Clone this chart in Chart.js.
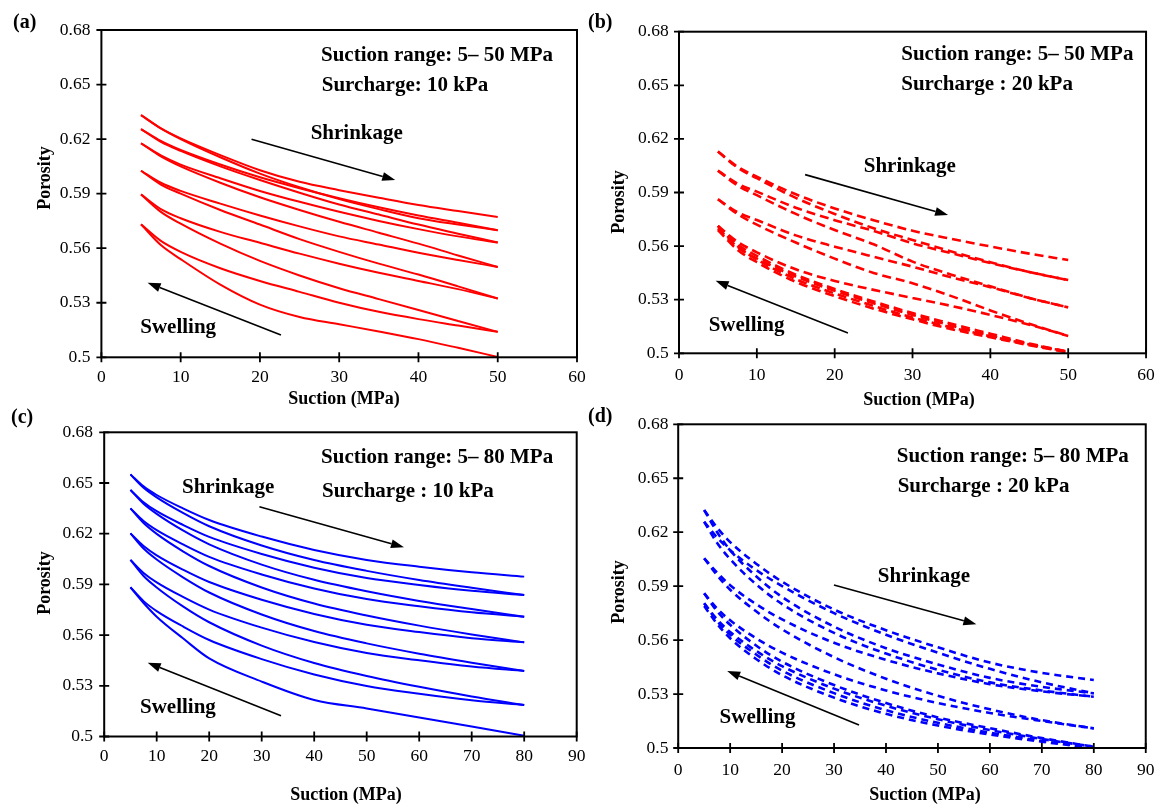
<!DOCTYPE html>
<html>
<head>
<meta charset="utf-8">
<script src="https://cdn.jsdelivr.net/npm/chart.js@4.4.1/dist/chart.umd.min.js"></script>
<style>
  html, body { margin: 0; padding: 0; background: #ffffff; }
  #figure { position: relative; width: 1166px; height: 805px; overflow: hidden; background: #ffffff; }
  #figure canvas { position: absolute; left: 0; top: 0; }
</style>
</head>
<body>
<div id="figure">
  <canvas id="panelA" width="1166" height="805"></canvas>
  <canvas id="panelB" width="1166" height="805"></canvas>
  <canvas id="panelC" width="1166" height="805"></canvas>
  <canvas id="panelD" width="1166" height="805"></canvas>
</div>
<script>
// Suction values (MPa) at which porosity is sampled along each path
const suction50 = [5, 7.5, 10, 15, 20, 25, 30, 35, 40, 45, 50];
const suction80 = [5, 7.5, 10, 15, 20, 30, 40, 50, 60, 70, 80];

// Axis ticks
const porosityTicks = [0.5, 0.53, 0.56, 0.59, 0.62, 0.65, 0.68];
const suctionTicks60 = [0, 10, 20, 30, 40, 50, 60];
const suctionTicks90 = [0, 10, 20, 30, 40, 50, 60, 70, 80, 90];

// (a) suction 5–50 MPa, surcharge 10 kPa — porosity along each wetting / drying path
const swellA = [
  [0.5731, 0.5617, 0.5540, 0.5400, 0.5290, 0.5222, 0.5182, 0.5142, 0.5100, 0.5052, 0.5002],
  [0.5896, 0.5800, 0.5735, 0.5625, 0.5530, 0.5450, 0.5380, 0.5320, 0.5260, 0.5200, 0.5140],
  [0.6026, 0.5950, 0.5900, 0.5810, 0.5730, 0.5650, 0.5580, 0.5515, 0.5455, 0.5390, 0.5323],
  [0.6177, 0.6105, 0.6050, 0.5960, 0.5880, 0.5810, 0.5745, 0.5685, 0.5625, 0.5560, 0.5497],
  [0.6255, 0.6185, 0.6135, 0.6050, 0.5975, 0.5905, 0.5840, 0.5785, 0.5730, 0.5680, 0.5631],
  [0.6332, 0.6259, 0.6200, 0.6100, 0.6010, 0.5935, 0.5870, 0.5815, 0.5765, 0.5730, 0.5699]
];
const shrinkA = [
  [0.5731, 0.5640, 0.5580, 0.5490, 0.5420, 0.5360, 0.5300, 0.5250, 0.5210, 0.5175, 0.5140],
  [0.5896, 0.5815, 0.5765, 0.5690, 0.5630, 0.5570, 0.5515, 0.5465, 0.5420, 0.5375, 0.5323],
  [0.6026, 0.5960, 0.5915, 0.5845, 0.5780, 0.5720, 0.5665, 0.5620, 0.5575, 0.5535, 0.5497],
  [0.6177, 0.6110, 0.6060, 0.5985, 0.5915, 0.5855, 0.5800, 0.5750, 0.5705, 0.5665, 0.5631],
  [0.6255, 0.6190, 0.6140, 0.6060, 0.5990, 0.5930, 0.5875, 0.5825, 0.5780, 0.5740, 0.5699],
  [0.6332, 0.6259, 0.6204, 0.6112, 0.6029, 0.5965, 0.5919, 0.5877, 0.5837, 0.5804, 0.5772]
];

// (b) suction 5–50 MPa, surcharge 20 kPa
const swellB = [
  [0.5713, 0.5610, 0.5545, 0.5440, 0.5360, 0.5290, 0.5225, 0.5165, 0.5110, 0.5055, 0.5009],
  [0.5700, 0.5595, 0.5530, 0.5430, 0.5350, 0.5280, 0.5215, 0.5155, 0.5100, 0.5050, 0.5005],
  [0.5862, 0.5780, 0.5720, 0.5620, 0.5530, 0.5450, 0.5392, 0.5320, 0.5240, 0.5165, 0.5097],
  [0.6022, 0.5940, 0.5885, 0.5780, 0.5690, 0.5610, 0.5513, 0.5440, 0.5375, 0.5310, 0.5257],
  [0.6129, 0.6040, 0.5980, 0.5870, 0.5780, 0.5700, 0.5634, 0.5570, 0.5510, 0.5455, 0.5410]
];
const shrinkB = [
  [0.5713, 0.5600, 0.5525, 0.5415, 0.5335, 0.5265, 0.5200, 0.5145, 0.5095, 0.5050, 0.5009],
  [0.5690, 0.5580, 0.5510, 0.5400, 0.5320, 0.5250, 0.5190, 0.5135, 0.5090, 0.5045, 0.5005],
  [0.5713, 0.5625, 0.5565, 0.5470, 0.5405, 0.5355, 0.5310, 0.5265, 0.5215, 0.5160, 0.5097],
  [0.5862, 0.5790, 0.5746, 0.5660, 0.5597, 0.5540, 0.5485, 0.5425, 0.5370, 0.5310, 0.5257],
  [0.6022, 0.5950, 0.5905, 0.5815, 0.5745, 0.5685, 0.5616, 0.5560, 0.5505, 0.5455, 0.5410],
  [0.6129, 0.6045, 0.5989, 0.5890, 0.5811, 0.5745, 0.5686, 0.5640, 0.5598, 0.5558, 0.5522]
];

// (c) suction 5–80 MPa, surcharge 10 kPa
const swellC = [
  [0.5883, 0.5790, 0.5709, 0.5581, 0.5462, 0.5325, 0.5216, 0.5166, 0.5113, 0.5059, 0.5005],
  [0.6045, 0.5950, 0.5882, 0.5770, 0.5676, 0.5538, 0.5435, 0.5358, 0.5294, 0.5237, 0.5186],
  [0.6202, 0.6112, 0.6047, 0.5942, 0.5852, 0.5722, 0.5624, 0.5551, 0.5490, 0.5437, 0.5388],
  [0.6350, 0.6263, 0.6199, 0.6096, 0.6009, 0.5882, 0.5787, 0.5716, 0.5656, 0.5604, 0.5557],
  [0.6459, 0.6377, 0.6317, 0.6219, 0.6137, 0.6017, 0.5927, 0.5859, 0.5802, 0.5754, 0.5709],
  [0.6551, 0.6472, 0.6415, 0.6323, 0.6244, 0.6130, 0.6044, 0.5980, 0.5926, 0.5880, 0.5837]
];
const shrinkC = [
  [0.5883, 0.5801, 0.5742, 0.5651, 0.5571, 0.5458, 0.5367, 0.5299, 0.5253, 0.5214, 0.5186],
  [0.6045, 0.5968, 0.5912, 0.5826, 0.5751, 0.5644, 0.5559, 0.5494, 0.5451, 0.5414, 0.5388],
  [0.6202, 0.6127, 0.6072, 0.5987, 0.5914, 0.5809, 0.5725, 0.5661, 0.5618, 0.5582, 0.5557],
  [0.6350, 0.6275, 0.6221, 0.6137, 0.6063, 0.5959, 0.5876, 0.5813, 0.5771, 0.5735, 0.5709],
  [0.6459, 0.6386, 0.6333, 0.6252, 0.6181, 0.6080, 0.5999, 0.5938, 0.5897, 0.5862, 0.5837],
  [0.6551, 0.6480, 0.6429, 0.6350, 0.6281, 0.6183, 0.6104, 0.6045, 0.6005, 0.5972, 0.5946]
];

// (d) suction 5–80 MPa, surcharge 20 kPa
const swellD = [
  [0.5805, 0.5705, 0.5630, 0.5520, 0.5430, 0.5305, 0.5210, 0.5140, 0.5085, 0.5040, 0.5000],
  [0.5860, 0.5760, 0.5685, 0.5570, 0.5480, 0.5350, 0.5250, 0.5170, 0.5110, 0.5055, 0.5007],
  [0.6055, 0.5960, 0.5880, 0.5760, 0.5660, 0.5505, 0.5385, 0.5290, 0.5215, 0.5155, 0.5109],
  [0.6258, 0.6140, 0.6050, 0.5910, 0.5800, 0.5640, 0.5525, 0.5435, 0.5365, 0.5320, 0.5285],
  [0.6323, 0.6200, 0.6100, 0.5955, 0.5840, 0.5675, 0.5555, 0.5465, 0.5390, 0.5340, 0.5304]
];
const shrinkD = [
  [0.5790, 0.5690, 0.5610, 0.5495, 0.5405, 0.5280, 0.5190, 0.5125, 0.5075, 0.5035, 0.5000],
  [0.5805, 0.5715, 0.5645, 0.5540, 0.5455, 0.5330, 0.5235, 0.5160, 0.5100, 0.5050, 0.5007],
  [0.5860, 0.5775, 0.5710, 0.5610, 0.5530, 0.5410, 0.5320, 0.5250, 0.5195, 0.5150, 0.5109],
  [0.6055, 0.5975, 0.5905, 0.5800, 0.5715, 0.5585, 0.5490, 0.5415, 0.5355, 0.5315, 0.5285],
  [0.6258, 0.6170, 0.6100, 0.5990, 0.5900, 0.5750, 0.5630, 0.5530, 0.5440, 0.5365, 0.5304],
  [0.6323, 0.6225, 0.6145, 0.6025, 0.5925, 0.5770, 0.5655, 0.5560, 0.5475, 0.5418, 0.5378]
];

const SERIF = '"Liberation Serif", "Times New Roman", serif';
const FIG_W = 1166, FIG_H = 805;
const TICK_FONT = { family: SERIF, size: 17.5 };

function drawArrow(ctx, x0, y0, x1, y1) {
  const ang = Math.atan2(y1 - y0, x1 - x0);
  const len = 13, half = 4.5;
  const bx = x1 - len * Math.cos(ang), by = y1 - len * Math.sin(ang);
  ctx.beginPath();
  ctx.moveTo(x0, y0);
  ctx.lineTo(bx, by);
  ctx.lineWidth = 1.6;
  ctx.stroke();
  ctx.beginPath();
  ctx.moveTo(x1, y1);
  ctx.lineTo(bx + half * Math.sin(ang), by - half * Math.cos(ang));
  ctx.lineTo(bx - half * Math.sin(ang), by + half * Math.cos(ang));
  ctx.closePath();
  ctx.fill();
}

// Frame, crossing tick marks, annotations, arrows and axis titles
const panelDecor = {
  id: 'panelDecor',
  afterDraw(chart, args, o) {
    const { ctx, chartArea: a } = chart;
    const xs = chart.scales.x, ys = chart.scales.y;
    ctx.save();
    ctx.strokeStyle = '#000';
    ctx.fillStyle = '#000';
    ctx.lineWidth = 2;
    ctx.strokeRect(a.left, a.top, a.right - a.left, a.bottom - a.top);
    ctx.lineWidth = 1.8;
    ctx.beginPath();
    xs.ticks.forEach(t => {
      const px = xs.getPixelForValue(t.value);
      ctx.moveTo(px, a.bottom - 5);
      ctx.lineTo(px, a.bottom + 5);
    });
    ys.ticks.forEach(t => {
      const py = ys.getPixelForValue(t.value);
      ctx.moveTo(a.left - 5, py);
      ctx.lineTo(a.left + 5, py);
    });
    ctx.stroke();

    ctx.textBaseline = 'middle';
    ctx.textAlign = 'left';
    ctx.font = 'bold 21px ' + SERIF;
    o.notes.forEach(n => {
      ctx.fillText(n.text, xs.getPixelForValue(n.x), ys.getPixelForValue(n.y));
    });
    o.arrows.forEach(r => {
      drawArrow(ctx, xs.getPixelForValue(r[0]), ys.getPixelForValue(r[1]),
                     xs.getPixelForValue(r[2]), ys.getPixelForValue(r[3]));
    });

    ctx.font = 'bold 20px ' + SERIF;
    ctx.fillText(o.letter, o.letterAt[0], o.letterAt[1]);

    ctx.font = 'bold 18px ' + SERIF;
    ctx.textAlign = 'center';
    ctx.fillText('Suction (MPa)', o.xTitleAt[0], o.xTitleAt[1]);
    ctx.translate(o.yTitleAt[0], o.yTitleAt[1]);
    ctx.rotate(-Math.PI / 2);
    ctx.fillText('Porosity', 0, 0);
    ctx.restore();
  }
};

function buildDatasets(xs, swell, shrink, color, dash) {
  const style = {
    showLine: true,
    borderColor: color,
    backgroundColor: color,
    borderWidth: dash ? 2.6 : 2,
    borderDash: dash || [],
    pointRadius: 0,
    cubicInterpolationMode: 'monotone',
    fill: false
  };
  const toPoints = row => row.map((v, i) => ({ x: xs[i], y: v }));
  return swell.map(r => Object.assign({ data: toPoints(r) }, style))
    .concat(shrink.map(r => Object.assign({ data: toPoints(r) }, style)));
}

function makePanel(id, p) {
  const xAxisH = 40;
  return new Chart(document.getElementById(id), {
    type: 'scatter',
    data: { datasets: buildDatasets(p.xs, p.swell, p.shrink, p.color, p.dash) },
    options: {
      responsive: false,
      animation: false,
      devicePixelRatio: 1,
      events: [],
      layout: {
        padding: {
          left: 0,
          top: p.area.top,
          right: FIG_W - p.area.right,
          bottom: FIG_H - p.area.bottom - xAxisH
        }
      },
      plugins: {
        legend: { display: false },
        tooltip: { enabled: false },
        panelDecor: p.decor
      },
      scales: {
        x: {
          type: 'linear',
          min: 0,
          max: p.xMax,
          afterBuildTicks: s => { s.ticks = p.xTicks.map(v => ({ value: v })); },
          afterFit: s => { s.height = xAxisH; },
          grid: { display: false, drawTicks: false },
          border: { display: false },
          ticks: {
            autoSkip: false, maxRotation: 0, padding: p.xPad, color: '#000',
            font: TICK_FONT,
            callback: v => String(v)
          }
        },
        y: {
          type: 'linear',
          min: 0.5,
          max: 0.68,
          afterBuildTicks: s => { s.ticks = porosityTicks.map(v => ({ value: v })); },
          afterFit: s => { s.width = p.area.left; },
          grid: { display: false, drawTicks: false },
          border: { display: false },
          ticks: {
            autoSkip: false, padding: p.yPad, color: '#000',
            font: TICK_FONT,
            callback: v => String(Number(Number(v).toFixed(2)))
          }
        }
      }
    },
    plugins: [panelDecor]
  });
}

makePanel('panelA', {
  xs: suction50, swell: swellA, shrink: shrinkA, color: '#ff0000', dash: null,
  xMax: 60, xTicks: suctionTicks60, xPad: 9.7, yPad: 11,
  area: { left: 101.4, right: 577, top: 30, bottom: 357.3 },
  decor: {
    letter: '(a)', letterAt: [13, 23], xTitleAt: [344, 399], yTitleAt: [45, 178],
    notes: [
      { text: 'Suction range: 5\u2013 50 MPa', x: 27.7, y: 0.6662 },
      { text: 'Surcharge: 10 kPa', x: 27.8, y: 0.6497 },
      { text: 'Shrinkage', x: 26.4, y: 0.6233 },
      { text: 'Swelling', x: 4.9, y: 0.5161 }
    ],
    arrows: [[18.94, 0.6199, 37.07, 0.5975], [22.65, 0.5122, 5.83, 0.5410]]
  }
});

makePanel('panelB', {
  xs: suction50, swell: swellB, shrink: shrinkB, color: '#ff0000', dash: [9, 5],
  xMax: 60, xTicks: suctionTicks60, xPad: 11.2, yPad: 10.3,
  area: { left: 679, right: 1152.5, top: 31.7, bottom: 353.3 },
  decor: {
    letter: '(b)', letterAt: [588, 23], xTitleAt: [919, 400], yTitleAt: [619.5, 202],
    notes: [
      { text: 'Suction range: 5\u2013 50 MPa', x: 28.55, y: 0.6670 },
      { text: 'Surcharge : 20 kPa', x: 28.55, y: 0.6502 },
      { text: 'Shrinkage', x: 23.73, y: 0.6043 },
      { text: 'Swelling', x: 3.81, y: 0.5153 }
    ],
    arrows: [[16.2, 0.6000, 34.57, 0.5774], [21.7, 0.5114, 4.7, 0.5406]]
  }
});

makePanel('panelC', {
  xs: suction80, swell: swellC, shrink: shrinkC, color: '#0000ff', dash: null,
  xMax: 90, xTicks: suctionTicks90, xPad: 9.7, yPad: 11.2,
  area: { left: 104.2, right: 576.7, top: 432.3, bottom: 736.5 },
  decor: {
    letter: '(c)', letterAt: [11, 418], xTitleAt: [346, 795], yTitleAt: [45, 583],
    notes: [
      { text: 'Suction range: 5\u2013 80 MPa', x: 41.3, y: 0.6648 },
      { text: 'Surcharge : 10 kPa', x: 41.5, y: 0.6447 },
      { text: 'Shrinkage', x: 14.82, y: 0.6470 },
      { text: 'Swelling', x: 6.82, y: 0.5169 }
    ],
    arrows: [[29.56, 0.6360, 57.1, 0.6120], [33.68, 0.5123, 8.29, 0.5437]]
  }
});

makePanel('panelD', {
  xs: suction80, swell: swellD, shrink: shrinkD, color: '#0000ff', dash: [7, 5],
  xMax: 90, xTicks: suctionTicks90, xPad: 11.5, yPad: 9.8,
  area: { left: 678.2, right: 1152.5, top: 424.3, bottom: 748 },
  decor: {
    letter: '(d)', letterAt: [588, 417], xTitleAt: [925, 795], yTitleAt: [619.5, 592],
    notes: [
      { text: 'Suction range: 5\u2013 80 MPa', x: 42.06, y: 0.6618 },
      { text: 'Surcharge : 20 kPa', x: 42.25, y: 0.6451 },
      { text: 'Shrinkage', x: 38.42, y: 0.5951 },
      { text: 'Swelling', x: 7.96, y: 0.5167 }
    ],
    arrows: [[29.98, 0.5906, 57.4, 0.5688], [34.8, 0.5128, 9.43, 0.5428]]
  }
});
</script>
</body>
</html>
